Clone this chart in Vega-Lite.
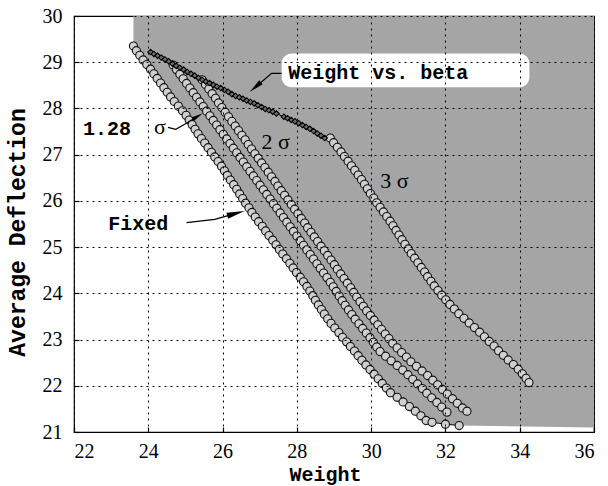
{
"$schema": "https://vega.github.io/schema/vega-lite/v6.json",
"width": 520, "height": 416,
"autosize": {"type": "none"},
"padding": {"left": 74, "top": 16, "right": 14, "bottom": 54},
"background": "white",
"config": {
 "view": {"stroke": "black", "strokeWidth": 1.2},
 "axis": {"labelFont": "Liberation Serif, Times New Roman, serif", "labelFontSize": 20}
},
"datasets": {
 "curves": [
  {"s":"f","w":23.60,"d":29.35},{"s":"f","w":23.68,"d":29.25},{"s":"f","w":23.77,"d":29.15},{"s":"f","w":23.86,"d":29.05},{"s":"f","w":23.96,"d":28.95},{"s":"f","w":24.06,"d":28.85},{"s":"f","w":24.15,"d":28.75},{"s":"f","w":24.24,"d":28.65},{"s":"f","w":24.33,"d":28.55},{"s":"f","w":24.42,"d":28.45},{"s":"f","w":24.51,"d":28.35},{"s":"f","w":24.60,"d":28.25},{"s":"f","w":24.70,"d":28.15},{"s":"f","w":24.81,"d":28.05},{"s":"f","w":24.92,"d":27.95},{"s":"f","w":25.02,"d":27.85},{"s":"f","w":25.10,"d":27.75},{"s":"f","w":25.18,"d":27.65},{"s":"f","w":25.26,"d":27.55},{"s":"f","w":25.34,"d":27.45},{"s":"f","w":25.43,"d":27.35},{"s":"f","w":25.52,"d":27.25},{"s":"f","w":25.61,"d":27.15},{"s":"f","w":25.70,"d":27.05},{"s":"f","w":25.79,"d":26.95},{"s":"f","w":25.88,"d":26.85},{"s":"f","w":25.97,"d":26.75},{"s":"f","w":26.05,"d":26.65},{"s":"f","w":26.13,"d":26.55},{"s":"f","w":26.21,"d":26.45},{"s":"f","w":26.30,"d":26.35},{"s":"f","w":26.38,"d":26.25},{"s":"f","w":26.46,"d":26.15},{"s":"f","w":26.54,"d":26.05},{"s":"f","w":26.62,"d":25.95},{"s":"f","w":26.71,"d":25.85},{"s":"f","w":26.79,"d":25.75},{"s":"f","w":26.88,"d":25.65},{"s":"f","w":26.97,"d":25.55},{"s":"f","w":27.07,"d":25.45},{"s":"f","w":27.16,"d":25.35},{"s":"f","w":27.25,"d":25.25},{"s":"f","w":27.35,"d":25.15},{"s":"f","w":27.44,"d":25.05},{"s":"f","w":27.53,"d":24.95},{"s":"f","w":27.62,"d":24.85},{"s":"f","w":27.72,"d":24.75},{"s":"f","w":27.81,"d":24.65},{"s":"f","w":27.90,"d":24.55},{"s":"f","w":27.99,"d":24.45},{"s":"f","w":28.09,"d":24.35},{"s":"f","w":28.18,"d":24.25},{"s":"f","w":28.27,"d":24.15},{"s":"f","w":28.35,"d":24.05},{"s":"f","w":28.43,"d":23.95},{"s":"f","w":28.50,"d":23.85},{"s":"f","w":28.58,"d":23.75},{"s":"f","w":28.66,"d":23.65},{"s":"f","w":28.74,"d":23.55},{"s":"f","w":28.83,"d":23.45},{"s":"f","w":28.92,"d":23.35},{"s":"f","w":29.02,"d":23.25},{"s":"f","w":29.13,"d":23.15},{"s":"f","w":29.23,"d":23.05},{"s":"f","w":29.34,"d":22.95},{"s":"f","w":29.44,"d":22.85},{"s":"f","w":29.55,"d":22.75},{"s":"f","w":29.65,"d":22.65},{"s":"f","w":29.75,"d":22.55},{"s":"f","w":29.86,"d":22.45},{"s":"f","w":29.97,"d":22.35},{"s":"f","w":30.08,"d":22.25},{"s":"f","w":30.19,"d":22.15},{"s":"f","w":30.30,"d":22.05},{"s":"f","w":30.41,"d":21.95},{"s":"f","w":30.52,"d":21.85},{"s":"f","w":30.70,"d":21.75},{"s":"f","w":30.86,"d":21.65},{"s":"f","w":31.03,"d":21.55},{"s":"f","w":31.19,"d":21.45},{"s":"f","w":31.34,"d":21.35},{"s":"f","w":31.48,"d":21.25},{"s":"f","w":31.64,"d":21.21},{"s":"f","w":32.00,"d":21.17},{"s":"f","w":32.37,"d":21.14},
  {"s":"a","w":24.67,"d":28.94},{"s":"a","w":24.76,"d":28.84},{"s":"a","w":24.85,"d":28.74},{"s":"a","w":24.94,"d":28.64},{"s":"a","w":25.03,"d":28.54},{"s":"a","w":25.12,"d":28.44},{"s":"a","w":25.21,"d":28.34},{"s":"a","w":25.30,"d":28.24},{"s":"a","w":25.39,"d":28.14},{"s":"a","w":25.48,"d":28.04},{"s":"a","w":25.57,"d":27.94},{"s":"a","w":25.66,"d":27.84},{"s":"a","w":25.75,"d":27.74},{"s":"a","w":25.84,"d":27.64},{"s":"a","w":25.93,"d":27.54},{"s":"a","w":26.02,"d":27.44},{"s":"a","w":26.11,"d":27.34},{"s":"a","w":26.20,"d":27.24},{"s":"a","w":26.29,"d":27.14},{"s":"a","w":26.38,"d":27.04},{"s":"a","w":26.47,"d":26.94},{"s":"a","w":26.56,"d":26.84},{"s":"a","w":26.65,"d":26.74},{"s":"a","w":26.74,"d":26.64},{"s":"a","w":26.83,"d":26.54},{"s":"a","w":26.92,"d":26.44},{"s":"a","w":27.01,"d":26.34},{"s":"a","w":27.10,"d":26.24},{"s":"a","w":27.19,"d":26.14},{"s":"a","w":27.28,"d":26.04},{"s":"a","w":27.37,"d":25.94},{"s":"a","w":27.46,"d":25.84},{"s":"a","w":27.55,"d":25.74},{"s":"a","w":27.64,"d":25.64},{"s":"a","w":27.73,"d":25.54},{"s":"a","w":27.82,"d":25.44},{"s":"a","w":27.91,"d":25.34},{"s":"a","w":28.00,"d":25.24},{"s":"a","w":28.09,"d":25.14},{"s":"a","w":28.18,"d":25.04},{"s":"a","w":28.27,"d":24.94},{"s":"a","w":28.36,"d":24.84},{"s":"a","w":28.45,"d":24.74},{"s":"a","w":28.54,"d":24.64},{"s":"a","w":28.63,"d":24.54},{"s":"a","w":28.72,"d":24.44},{"s":"a","w":28.81,"d":24.34},{"s":"a","w":28.90,"d":24.24},{"s":"a","w":28.98,"d":24.14},{"s":"a","w":29.06,"d":24.04},{"s":"a","w":29.14,"d":23.94},{"s":"a","w":29.22,"d":23.84},{"s":"a","w":29.30,"d":23.74},{"s":"a","w":29.39,"d":23.64},{"s":"a","w":29.48,"d":23.54},{"s":"a","w":29.57,"d":23.44},{"s":"a","w":29.67,"d":23.34},{"s":"a","w":29.77,"d":23.24},{"s":"a","w":29.87,"d":23.14},{"s":"a","w":29.97,"d":23.04},{"s":"a","w":30.06,"d":22.94},{"s":"a","w":30.15,"d":22.84},{"s":"a","w":30.24,"d":22.74},{"s":"a","w":30.39,"d":22.64},{"s":"a","w":30.54,"d":22.54},{"s":"a","w":30.70,"d":22.44},{"s":"a","w":30.85,"d":22.34},{"s":"a","w":30.99,"d":22.24},{"s":"a","w":31.12,"d":22.14},{"s":"a","w":31.25,"d":22.04},{"s":"a","w":31.38,"d":21.94},{"s":"a","w":31.50,"d":21.84},{"s":"a","w":31.63,"d":21.74},{"s":"a","w":31.77,"d":21.64},{"s":"a","w":31.90,"d":21.54},{"s":"a","w":32.04,"d":21.43},
  {"s":"b","w":25.45,"d":28.62},{"s":"b","w":25.54,"d":28.52},{"s":"b","w":25.63,"d":28.42},{"s":"b","w":25.72,"d":28.32},{"s":"b","w":25.81,"d":28.22},{"s":"b","w":25.89,"d":28.12},{"s":"b","w":25.98,"d":28.02},{"s":"b","w":26.07,"d":27.92},{"s":"b","w":26.16,"d":27.82},{"s":"b","w":26.25,"d":27.72},{"s":"b","w":26.34,"d":27.62},{"s":"b","w":26.43,"d":27.52},{"s":"b","w":26.52,"d":27.42},{"s":"b","w":26.61,"d":27.32},{"s":"b","w":26.69,"d":27.22},{"s":"b","w":26.78,"d":27.12},{"s":"b","w":26.87,"d":27.02},{"s":"b","w":26.96,"d":26.92},{"s":"b","w":27.05,"d":26.82},{"s":"b","w":27.14,"d":26.72},{"s":"b","w":27.23,"d":26.62},{"s":"b","w":27.32,"d":26.52},{"s":"b","w":27.41,"d":26.42},{"s":"b","w":27.49,"d":26.32},{"s":"b","w":27.58,"d":26.22},{"s":"b","w":27.67,"d":26.12},{"s":"b","w":27.76,"d":26.02},{"s":"b","w":27.85,"d":25.92},{"s":"b","w":27.94,"d":25.82},{"s":"b","w":28.03,"d":25.72},{"s":"b","w":28.12,"d":25.62},{"s":"b","w":28.21,"d":25.52},{"s":"b","w":28.29,"d":25.42},{"s":"b","w":28.38,"d":25.32},{"s":"b","w":28.47,"d":25.22},{"s":"b","w":28.56,"d":25.12},{"s":"b","w":28.65,"d":25.02},{"s":"b","w":28.74,"d":24.92},{"s":"b","w":28.83,"d":24.82},{"s":"b","w":28.92,"d":24.72},{"s":"b","w":29.01,"d":24.62},{"s":"b","w":29.09,"d":24.52},{"s":"b","w":29.18,"d":24.42},{"s":"b","w":29.27,"d":24.32},{"s":"b","w":29.36,"d":24.22},{"s":"b","w":29.45,"d":24.12},{"s":"b","w":29.53,"d":24.02},{"s":"b","w":29.61,"d":23.92},{"s":"b","w":29.70,"d":23.82},{"s":"b","w":29.79,"d":23.72},{"s":"b","w":29.88,"d":23.62},{"s":"b","w":29.98,"d":23.52},{"s":"b","w":30.08,"d":23.42},{"s":"b","w":30.18,"d":23.32},{"s":"b","w":30.28,"d":23.22},{"s":"b","w":30.38,"d":23.12},{"s":"b","w":30.48,"d":23.02},{"s":"b","w":30.58,"d":22.92},{"s":"b","w":30.70,"d":22.82},{"s":"b","w":30.82,"d":22.72},{"s":"b","w":30.95,"d":22.62},{"s":"b","w":31.07,"d":22.52},{"s":"b","w":31.22,"d":22.42},{"s":"b","w":31.37,"d":22.32},{"s":"b","w":31.52,"d":22.22},{"s":"b","w":31.66,"d":22.12},{"s":"b","w":31.79,"d":22.02},{"s":"b","w":31.92,"d":21.92},{"s":"b","w":32.05,"d":21.82},{"s":"b","w":32.19,"d":21.72},{"s":"b","w":32.32,"d":21.62},{"s":"b","w":32.46,"d":21.52},{"s":"b","w":32.58,"d":21.45},
  {"s":"c","w":28.90,"d":27.36},{"s":"c","w":28.99,"d":27.26},{"s":"c","w":29.09,"d":27.16},{"s":"c","w":29.19,"d":27.06},{"s":"c","w":29.28,"d":26.96},{"s":"c","w":29.38,"d":26.86},{"s":"c","w":29.47,"d":26.76},{"s":"c","w":29.56,"d":26.66},{"s":"c","w":29.65,"d":26.56},{"s":"c","w":29.74,"d":26.46},{"s":"c","w":29.82,"d":26.36},{"s":"c","w":29.90,"d":26.26},{"s":"c","w":29.98,"d":26.16},{"s":"c","w":30.07,"d":26.06},{"s":"c","w":30.15,"d":25.96},{"s":"c","w":30.24,"d":25.86},{"s":"c","w":30.33,"d":25.76},{"s":"c","w":30.42,"d":25.66},{"s":"c","w":30.51,"d":25.56},{"s":"c","w":30.59,"d":25.46},{"s":"c","w":30.67,"d":25.36},{"s":"c","w":30.75,"d":25.26},{"s":"c","w":30.83,"d":25.16},{"s":"c","w":30.91,"d":25.06},{"s":"c","w":31.00,"d":24.96},{"s":"c","w":31.08,"d":24.86},{"s":"c","w":31.17,"d":24.76},{"s":"c","w":31.26,"d":24.66},{"s":"c","w":31.35,"d":24.56},{"s":"c","w":31.44,"d":24.46},{"s":"c","w":31.52,"d":24.36},{"s":"c","w":31.61,"d":24.26},{"s":"c","w":31.70,"d":24.16},{"s":"c","w":31.80,"d":24.06},{"s":"c","w":31.90,"d":23.96},{"s":"c","w":32.01,"d":23.86},{"s":"c","w":32.12,"d":23.76},{"s":"c","w":32.24,"d":23.66},{"s":"c","w":32.36,"d":23.56},{"s":"c","w":32.50,"d":23.46},{"s":"c","w":32.64,"d":23.36},{"s":"c","w":32.78,"d":23.26},{"s":"c","w":32.92,"d":23.16},{"s":"c","w":33.05,"d":23.06},{"s":"c","w":33.18,"d":22.96},{"s":"c","w":33.31,"d":22.86},{"s":"c","w":33.43,"d":22.76},{"s":"c","w":33.56,"d":22.66},{"s":"c","w":33.69,"d":22.56},{"s":"c","w":33.83,"d":22.46},{"s":"c","w":33.96,"d":22.36},{"s":"c","w":34.07,"d":22.26},{"s":"c","w":34.17,"d":22.16},{"s":"c","w":34.25,"d":22.07},
  {"s":"beta","w":24.06,"d":29.22},{"s":"beta","w":24.15,"d":29.18},{"s":"beta","w":24.25,"d":29.14},{"s":"beta","w":24.35,"d":29.10},{"s":"beta","w":24.45,"d":29.06},{"s":"beta","w":24.55,"d":29.02},{"s":"beta","w":24.65,"d":28.97},{"s":"beta","w":24.75,"d":28.92},{"s":"beta","w":24.85,"d":28.88},{"s":"beta","w":24.95,"d":28.84},{"s":"beta","w":25.05,"d":28.79},{"s":"beta","w":25.15,"d":28.75},{"s":"beta","w":25.25,"d":28.71},{"s":"beta","w":25.35,"d":28.66},{"s":"beta","w":25.45,"d":28.62},{"s":"beta","w":25.55,"d":28.58},{"s":"beta","w":25.65,"d":28.55},{"s":"beta","w":25.75,"d":28.51},{"s":"beta","w":25.85,"d":28.47},{"s":"beta","w":25.95,"d":28.44},{"s":"beta","w":26.05,"d":28.40},{"s":"beta","w":26.15,"d":28.36},{"s":"beta","w":26.25,"d":28.31},{"s":"beta","w":26.35,"d":28.27},{"s":"beta","w":26.45,"d":28.24},{"s":"beta","w":26.55,"d":28.21},{"s":"beta","w":26.65,"d":28.17},{"s":"beta","w":26.75,"d":28.14},{"s":"beta","w":26.85,"d":28.11},{"s":"beta","w":26.95,"d":28.07},{"s":"beta","w":27.05,"d":28.03},{"s":"beta","w":27.15,"d":27.99},{"s":"beta","w":27.25,"d":27.96},{"s":"beta","w":27.35,"d":27.93},{"s":"beta","w":27.45,"d":27.89},{"s":"beta","w":27.65,"d":27.82},{"s":"beta","w":27.75,"d":27.79},{"s":"beta","w":27.85,"d":27.75},{"s":"beta","w":27.95,"d":27.72},{"s":"beta","w":28.05,"d":27.68},{"s":"beta","w":28.15,"d":27.64},{"s":"beta","w":28.25,"d":27.60},{"s":"beta","w":28.35,"d":27.56},{"s":"beta","w":28.45,"d":27.51},{"s":"beta","w":28.55,"d":27.46},{"s":"beta","w":28.65,"d":27.41},{"s":"beta","w":28.75,"d":27.36},
  {"s":"edge","w":36.0,"d":21.1}
 ]
},
"encoding": {
 "x": {"field": "w", "type": "quantitative", "title": "Weight",
  "scale": {"domain": [22, 36], "nice": false, "zero": false},
  "axis": {"values": [22,24,26,28,30,32,34,36], "zindex": 1,
   "grid": true, "gridColor": "black", "gridOpacity": 1, "gridWidth": 1, "gridDash": [2, 4],
   "domain": false, "ticks": true, "tickColor": "black", "tickSize": -5, "tickWidth": 1.2,
   "labelFont": "Liberation Serif, Times New Roman, serif", "labelFontSize": 20, "labelColor": "black", "labelPadding": 14,
   "titleFont": "Liberation Mono", "titleFontWeight": "bold", "titleFontSize": 20, "titleColor": "black",
   "titleX": 251, "titleY": 42, "titleBaseline": "middle"}},
 "y": {"field": "d", "type": "quantitative", "title": "Average Deflection", "stack": null,
  "scale": {"domain": [21, 30], "nice": false, "zero": false},
  "axis": {"values": [21,22,23,24,25,26,27,28,29,30], "zindex": 1,
   "grid": true, "gridColor": "black", "gridOpacity": 1, "gridWidth": 1, "gridDash": [2, 4],
   "domain": false, "ticks": true, "tickColor": "black", "tickSize": -5, "tickWidth": 1.2,
   "labelFont": "Liberation Serif, Times New Roman, serif", "labelFontSize": 20, "labelColor": "black", "labelPadding": 17,
   "titleFont": "Liberation Mono", "titleFontWeight": "bold", "titleFontSize": 23, "titleColor": "black",
   "titleX": -57, "titleY": 216, "titleBaseline": "middle"}}
},
"layer": [
 {"data": {"name": "curves"}, "transform": [{"filter": "datum.s === 'f' || datum.s === 'edge'"}],
  "mark": {"type": "area", "color": "#a5a5a5"},
  "encoding": {"y2": {"datum": 30}}},
 {"data": {"name": "curves"}, "transform": [{"filter": "datum.s !== 'edge'"}],
  "mark": {"type": "line", "color": "black", "strokeWidth": 1},
  "encoding": {"detail": {"field": "s"}}},
 {"data": {"name": "curves"}, "transform": [{"filter": "datum.s === 'f' || datum.s === 'a' || datum.s === 'b' || datum.s === 'c'"}],
  "mark": {"type": "point", "shape": "circle", "filled": true, "fill": "#cfcfcf", "stroke": "#111111", "strokeWidth": 1.1, "size": 66, "opacity": 1}},
 {"data": {"name": "curves"}, "transform": [{"filter": "datum.s === 'beta'"}],
  "mark": {"type": "point", "shape": "diamond", "filled": true, "fill": "#707070", "stroke": "black", "strokeWidth": 1.1, "size": 30, "opacity": 1}},
 {"data": {"values": [{"w": 27.59, "d": 29.19, "w2": 34.26, "d2": 28.46}]},
  "mark": {"type": "rect", "fill": "white", "cornerRadius": 10},
  "encoding": {"x2": {"field": "w2"}, "y2": {"field": "d2"}}},
 {"data": {"values": [
   {"g": "beta", "o": 1, "w": 27.59, "d": 28.76}, {"g": "beta", "o": 2, "w": 27.32, "d": 28.76}, {"g": "beta", "o": 3, "w": 26.88, "d": 28.46},
   {"g": "fixed", "o": 1, "w": 25.03, "d": 25.53}, {"g": "fixed", "o": 2, "w": 25.79, "d": 25.60}, {"g": "fixed", "o": 3, "w": 26.36, "d": 25.73},
   {"g": "s128", "o": 1, "w": 24.53, "d": 27.59}, {"g": "s128", "o": 2, "w": 24.74, "d": 27.55}, {"g": "s128", "o": 3, "w": 24.98, "d": 27.66}, {"g": "s128", "o": 4, "w": 25.33, "d": 27.83}
  ]},
  "mark": {"type": "line", "color": "black", "strokeWidth": 1.2},
  "encoding": {"detail": {"field": "g"}, "order": {"field": "o"}}},
 {"data": {"values": [{"w": 26.88, "d": 28.46}]},
  "mark": {"type": "point", "shape": "M0,-1L0.35,1L-0.35,1Z", "filled": true, "color": "black", "opacity": 1, "size": 225, "angle": 229}},
 {"data": {"values": [{"w": 26.36, "d": 25.73}]},
  "mark": {"type": "point", "shape": "M0,-1L0.35,1L-0.35,1Z", "filled": true, "color": "black", "opacity": 1, "size": 324, "angle": 75}},
 {"data": {"values": [{"w": 25.33, "d": 27.83}]},
  "mark": {"type": "point", "shape": "M0,-1L0.35,1L-0.35,1Z", "filled": true, "color": "black", "opacity": 1, "size": 144, "angle": 59}},
 {"data": {"values": [
   {"t": "1.28", "w": 22.89, "d": 27.56}, {"t": "Fixed", "w": 23.73, "d": 25.51}, {"t": "Weight vs. beta", "w": 30.19, "d": 28.76}
  ]},
  "mark": {"type": "text", "font": "Liberation Mono", "fontWeight": "bold", "fontSize": 20, "color": "black", "align": "center", "baseline": "middle"},
  "encoding": {"text": {"field": "t"}}},
 {"data": {"values": [
   {"t": "σ", "w": 24.31, "d": 27.60}, {"t": "2 σ", "w": 27.43, "d": 27.27}, {"t": "3 σ", "w": 30.63, "d": 26.44}
  ]},
  "mark": {"type": "text", "font": "Liberation Serif", "fontSize": 22, "color": "black", "align": "center", "baseline": "middle"},
  "encoding": {"text": {"field": "t"}}}
]
}
